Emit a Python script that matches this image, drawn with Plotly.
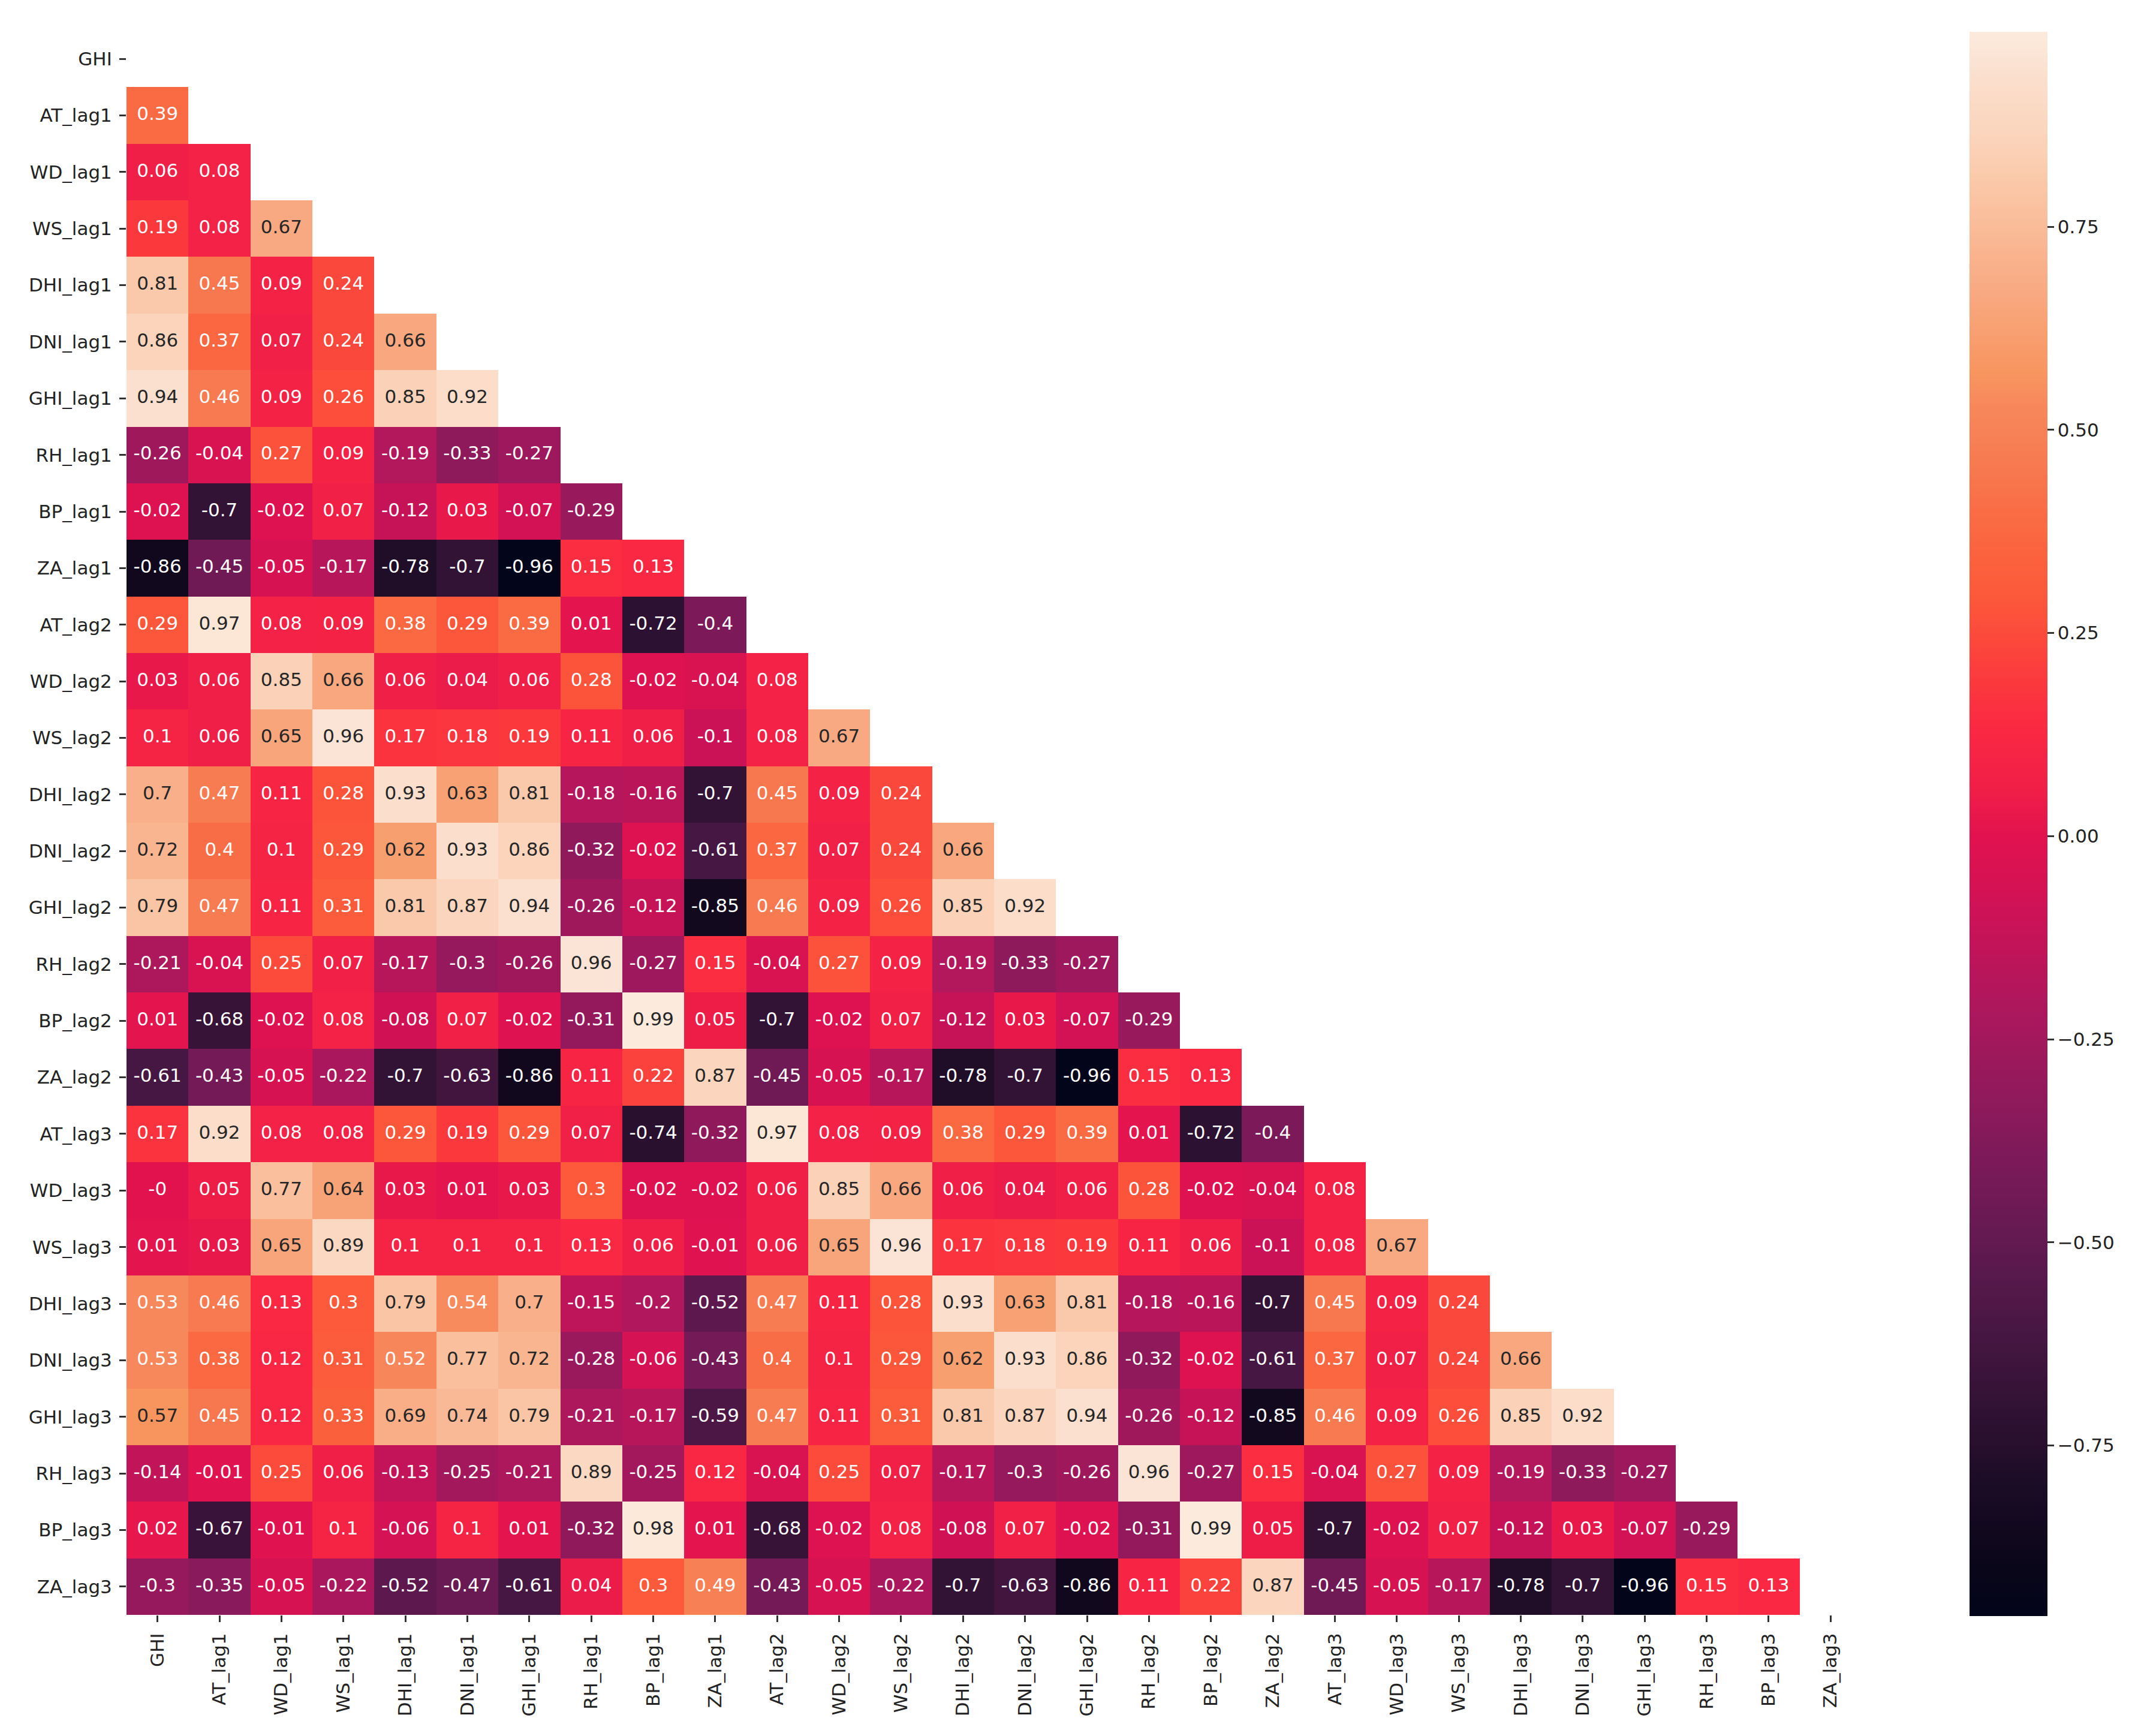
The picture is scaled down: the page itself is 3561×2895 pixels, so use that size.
import plotly.graph_objects as go

labels = ["GHI", "AT_lag1", "WD_lag1", "WS_lag1", "DHI_lag1", "DNI_lag1", "GHI_lag1",
          "RH_lag1", "BP_lag1", "ZA_lag1", "AT_lag2", "WD_lag2", "WS_lag2", "DHI_lag2",
          "DNI_lag2", "GHI_lag2", "RH_lag2", "BP_lag2", "ZA_lag2", "AT_lag3", "WD_lag3",
          "WS_lag3", "DHI_lag3", "DNI_lag3", "GHI_lag3", "RH_lag3", "BP_lag3", "ZA_lag3"]

# Lower-triangle correlations (row i holds columns 0..i-1)
lower_rows = [
    [],
    [0.39],
    [0.06, 0.08],
    [0.19, 0.08, 0.67],
    [0.81, 0.45, 0.09, 0.24],
    [0.86, 0.37, 0.07, 0.24, 0.66],
    [0.94, 0.46, 0.09, 0.26, 0.85, 0.92],
    [-0.26, -0.04, 0.27, 0.09, -0.19, -0.33, -0.27],
    [-0.02, -0.7, -0.02, 0.07, -0.12, 0.03, -0.07, -0.29],
    [-0.86, -0.45, -0.05, -0.17, -0.78, -0.7, -0.96, 0.15, 0.13],
    [0.29, 0.97, 0.08, 0.09, 0.38, 0.29, 0.39, 0.01, -0.72, -0.4],
    [0.03, 0.06, 0.85, 0.66, 0.06, 0.04, 0.06, 0.28, -0.02, -0.04, 0.08],
    [0.1, 0.06, 0.65, 0.96, 0.17, 0.18, 0.19, 0.11, 0.06, -0.1, 0.08, 0.67],
    [0.7, 0.47, 0.11, 0.28, 0.93, 0.63, 0.81, -0.18, -0.16, -0.7, 0.45, 0.09, 0.24],
    [0.72, 0.4, 0.1, 0.29, 0.62, 0.93, 0.86, -0.32, -0.02, -0.61, 0.37, 0.07, 0.24, 0.66],
    [0.79, 0.47, 0.11, 0.31, 0.81, 0.87, 0.94, -0.26, -0.12, -0.85, 0.46, 0.09, 0.26, 0.85, 0.92],
    [-0.21, -0.04, 0.25, 0.07, -0.17, -0.3, -0.26, 0.96, -0.27, 0.15, -0.04, 0.27, 0.09, -0.19,
     -0.33, -0.27],
    [0.01, -0.68, -0.02, 0.08, -0.08, 0.07, -0.02, -0.31, 0.99, 0.05, -0.7, -0.02, 0.07, -0.12,
     0.03, -0.07, -0.29],
    [-0.61, -0.43, -0.05, -0.22, -0.7, -0.63, -0.86, 0.11, 0.22, 0.87, -0.45, -0.05, -0.17, -0.78,
     -0.7, -0.96, 0.15, 0.13],
    [0.17, 0.92, 0.08, 0.08, 0.29, 0.19, 0.29, 0.07, -0.74, -0.32, 0.97, 0.08, 0.09, 0.38, 0.29,
     0.39, 0.01, -0.72, -0.4],
    [-0.0, 0.05, 0.77, 0.64, 0.03, 0.01, 0.03, 0.3, -0.02, -0.02, 0.06, 0.85, 0.66, 0.06, 0.04,
     0.06, 0.28, -0.02, -0.04, 0.08],
    [0.01, 0.03, 0.65, 0.89, 0.1, 0.1, 0.1, 0.13, 0.06, -0.01, 0.06, 0.65, 0.96, 0.17, 0.18, 0.19,
     0.11, 0.06, -0.1, 0.08, 0.67],
    [0.53, 0.46, 0.13, 0.3, 0.79, 0.54, 0.7, -0.15, -0.2, -0.52, 0.47, 0.11, 0.28, 0.93, 0.63,
     0.81, -0.18, -0.16, -0.7, 0.45, 0.09, 0.24],
    [0.53, 0.38, 0.12, 0.31, 0.52, 0.77, 0.72, -0.28, -0.06, -0.43, 0.4, 0.1, 0.29, 0.62, 0.93,
     0.86, -0.32, -0.02, -0.61, 0.37, 0.07, 0.24, 0.66],
    [0.57, 0.45, 0.12, 0.33, 0.69, 0.74, 0.79, -0.21, -0.17, -0.59, 0.47, 0.11, 0.31, 0.81, 0.87,
     0.94, -0.26, -0.12, -0.85, 0.46, 0.09, 0.26, 0.85, 0.92],
    [-0.14, -0.01, 0.25, 0.06, -0.13, -0.25, -0.21, 0.89, -0.25, 0.12, -0.04, 0.25, 0.07, -0.17,
     -0.3, -0.26, 0.96, -0.27, 0.15, -0.04, 0.27, 0.09, -0.19, -0.33, -0.27],
    [0.02, -0.67, -0.01, 0.1, -0.06, 0.1, 0.01, -0.32, 0.98, 0.01, -0.68, -0.02, 0.08, -0.08,
     0.07, -0.02, -0.31, 0.99, 0.05, -0.7, -0.02, 0.07, -0.12, 0.03, -0.07, -0.29],
    [-0.3, -0.35, -0.05, -0.22, -0.52, -0.47, -0.61, 0.04, 0.3, 0.49, -0.43, -0.05, -0.22, -0.7,
     -0.63, -0.86, 0.11, 0.22, 0.87, -0.45, -0.05, -0.17, -0.78, -0.7, -0.96, 0.15, 0.13],
]

colorbar_ticks = [-0.75, -0.5, -0.25, 0.0, 0.25, 0.5, 0.75]
colorbar_ticktext = ["\u22120.75", "\u22120.50", "\u22120.25", "0.00", "0.25", "0.50", "0.75"]

# "rocket"-like colour ramp (value -> colour), as seen in the reference
ramp_values = [-0.96, -0.9, -0.8, -0.7, -0.6, -0.5, -0.4, -0.3, -0.2, -0.1, 0.0, 0.06, 0.13,
               0.19, 0.30, 0.38, 0.46, 0.53, 0.57, 0.66, 0.70, 0.79, 0.85, 0.94, 0.99]
ramp_colors = ["#03051A", "#0A0619", "#1B0C25", "#321235", "#491744", "#621A50", "#7C1A59",
               "#95195C", "#B0175C", "#CC1257", "#E2124F", "#F01F47", "#FA2842", "#FB393D",
               "#FC5A3A", "#FA6942", "#F77A50", "#F7885C", "#F8955F", "#F8A77E", "#F9B08A",
               "#FAC5A4", "#FBD2B8", "#FBE0CF", "#FCEBDD"]

n = len(labels)
assert all(len(r) == i for i, r in enumerate(lower_rows))

all_vals = [v for r in lower_rows for v in r]
zmin, zmax = min(all_vals), max(all_vals)

z = [[(lower_rows[i][j] if j < i else None) for j in range(n)] for i in range(n)]

colorscale = [[(v - zmin) / (zmax - zmin), c] for v, c in zip(ramp_values, ramp_colors)]
colorscale[0][0] = 0.0
colorscale[-1][0] = 1.0


def hex2rgb(h):
    h = h.lstrip("#")
    return [int(h[k:k + 2], 16) / 255 for k in (0, 2, 4)]


def color_at(v):
    f = (v - zmin) / (zmax - zmin)
    for k in range(len(colorscale) - 1):
        f0, c0 = colorscale[k]
        f1, c1 = colorscale[k + 1]
        if f <= f1 or k == len(colorscale) - 2:
            t = 0 if f1 == f0 else min(max((f - f0) / (f1 - f0), 0), 1)
            a, b = hex2rgb(c0), hex2rgb(c1)
            return [a[m] + (b[m] - a[m]) * t for m in range(3)]


def luminance(rgb):
    lin = [(c / 12.92) if c <= 0.03928 else ((c + 0.055) / 1.055) ** 2.4 for c in rgb]
    return 0.2126 * lin[0] + 0.7152 * lin[1] + 0.0722 * lin[2]


tx, ty, tt, tc = [], [], [], []
for i, r in enumerate(lower_rows):
    for j, v in enumerate(r):
        tx.append(j)
        ty.append(i)
        tt.append(f"{v:g}")
        tc.append("#262626" if luminance(color_at(v)) > 0.408 else "#FFFFFF")

font_family = "DejaVu Sans"
W, H = 3561, 2895
left, right, top, bottom = 203, 3097, 43, 2685
plot_h = bottom - top

fig = go.Figure()
fig.add_trace(go.Heatmap(
    z=z, x=list(range(n)), y=list(range(n)),
    zmin=zmin, zmax=zmax, colorscale=colorscale,
    hoverongaps=False,
    colorbar=dict(
        thickness=130, thicknessmode="pixels",
        len=2642, lenmode="pixels",
        x=(3277 - left) / (right - left), xanchor="left", xpad=0,
        y=1 - (45 - top) / plot_h, yanchor="top", ypad=0,
        outlinewidth=0,
        tickvals=colorbar_ticks, ticktext=colorbar_ticktext,
        ticks="outside", ticklen=11, tickwidth=2.5, tickcolor="#333333",
        tickfont=dict(family=font_family, size=31, color="#222222"),
    ),
))
fig.add_trace(go.Scatter(
    x=tx, y=ty, text=tt, mode="text",
    textfont=dict(family=font_family, size=31, color=tc),
    hoverinfo="skip", showlegend=False,
))

axis_common = dict(
    tickmode="array", tickvals=list(range(n)), ticktext=labels,
    ticks="outside", ticklen=11, tickwidth=2.5, tickcolor="#333333",
    tickfont=dict(family=font_family, size=31, color="#222222"),
    showgrid=False, zeroline=False, showline=False,
)
fig.update_xaxes(range=[-0.5, n - 0.5], tickangle=-90, ticklabelstandoff=6, **axis_common)
fig.update_yaxes(range=[n - 0.5, -0.5], ticklabelstandoff=6, **axis_common)

fig.update_layout(
    width=W, height=H,
    margin=dict(l=left, r=W - right, t=top, b=H - bottom, autoexpand=False),
    paper_bgcolor="white", plot_bgcolor="white",
    font=dict(family=font_family),
)

fig.write_html("out.html")
